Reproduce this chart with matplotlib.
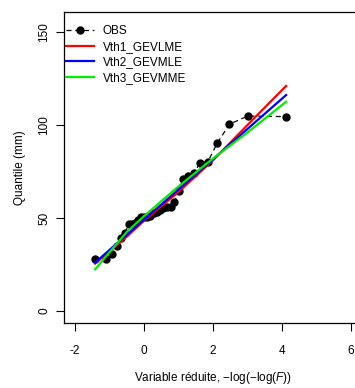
import matplotlib
matplotlib.use("Agg")
import matplotlib.pyplot as plt

plt.rcParams['font.family'] = ['Liberation Sans', 'DejaVu Sans']
plt.rcParams['mathtext.fontset'] = 'custom'
plt.rcParams['mathtext.rm'] = 'Liberation Sans'
plt.rcParams['mathtext.it'] = 'Liberation Sans:italic'

# variable réduite (positions de tracé) et quantiles observés
obs_x = [-1.418, -1.108, -0.923, -0.780, -0.657, -0.548, -0.446, -0.350, -0.258,
         -0.168, -0.079, 0.008, 0.096, 0.185, 0.275, 0.367, 0.461, 0.559, 0.661,
         0.769, 0.883, 1.005, 1.138, 1.284, 1.446, 1.635, 1.852, 2.122, 2.476,
         3.004, 4.120]
obs_y = [28.0, 28.0, 30.6, 35.1, 39.1, 42.1, 46.6, 46.8, 47.5, 48.9, 50.4, 50.7,
         50.7, 51.1, 52.5, 53.4, 54.3, 55.2, 55.7, 55.9, 58.6, 64.5, 71.1, 72.8,
         74.4, 79.8, 80.3, 90.2, 100.4, 104.8, 104.5]

# quantiles des ajustements
fit_x = [-1.418, -0.5, 0.0, 1.0, 2.0, 3.0, 4.120]
gevlme = [25.5, 40.0, 48.5, 64.0, 81.0, 100.0, 121.0]
gevmle = [26.0, 41.0, 49.1, 65.4, 81.6, 97.9, 116.1]
gevmme = [22.4, 42.5, 51.0, 67.0, 82.0, 96.0, 112.5]

fig = plt.figure(figsize=(3.55, 3.88), dpi=100)
ax = fig.add_axes([64 / 355, 65 / 388, 298 / 355, 311 / 388])

ax.plot(obs_x, obs_y, color='black', linestyle=(0, (4, 3)), linewidth=0.9,
        marker='o', markersize=5, label='OBS')
ax.plot(fit_x, gevlme, color='#ff0000', linewidth=1.6, label='Vth1_GEVLME')
ax.plot(fit_x, gevmle, color='#0000ff', linewidth=1.6, label='Vth2_GEVMLE')
ax.plot(fit_x, gevmme, color='#00ee00', linewidth=1.6, label='Vth3_GEVMME')

ax.set_xlim(-2.32, 6.32)
ax.set_ylim(-6.45, 160.75)
ax.set_xticks([-2, 0, 2, 4, 6])
ax.set_yticks([0, 50, 100, 150])
ax.set_xticklabels(['-2', '0', '2', '4', '6'])
ax.tick_params(axis='both', direction='out', length=6, width=0.8, labelsize=8.5)
ax.tick_params(axis='x', pad=10)
ax.tick_params(axis='y', pad=4)
for lab in ax.get_yticklabels():
    lab.set_rotation(90)
    lab.set_va('center')
ax.spines['right'].set_visible(False)
for s in ['left', 'top', 'bottom']:
    ax.spines[s].set_linewidth(0.9)

ax.set_xlabel(r'Variable réduite, $-\log(-\log(F))$', fontsize=8.5, labelpad=9)
ax.set_ylabel('Quantile (mm)', fontsize=8.5, labelpad=9)

ax.legend(loc='upper left', bbox_to_anchor=(66 / 355, (388 - 25) / 388),
          bbox_transform=fig.transFigure, frameon=False, fontsize=8.5,
          borderaxespad=0, borderpad=0, handlelength=2.4, handletextpad=0.7,
          labelspacing=0.32)

fig.savefig('out.png', dpi=100)
